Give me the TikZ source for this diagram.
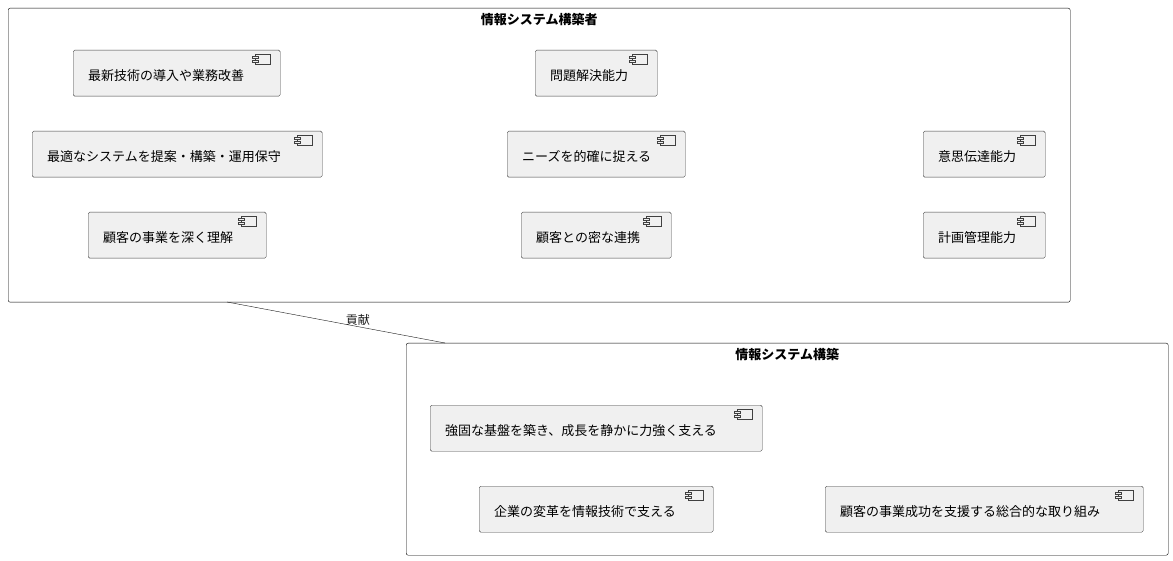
\documentclass[tikz,border=0pt]{standalone}
\usepackage{fontspec}
\setmainfont{Noto Sans CJK JP}
\usetikzlibrary{positioning}

\tikzset{
  comp/.style={draw=black!75, fill=black!6, rounded corners=1.5pt, anchor=north west,
    minimum height=46pt, inner xsep=15pt, inner ysep=0pt, text width=#1, align=left,
    font=\fontsize{13}{15}\selectfont, text height=15pt, text depth=1pt},
  pkg/.style={draw=black, rounded corners=2pt, anchor=north west, inner sep=0pt},
  title/.style={font=\fontsize{13}{15}\selectfont\bfseries},
}

\begin{document}
\begin{tikzpicture}[x=1pt, y=-1pt]
        \useasboundingbox (0,0) rectangle (1173,561);
        % Packages
        \node (builder) [pkg, minimum width=1062pt, minimum height=294pt] at (8,8) {};
        \node [title, below=2pt of builder.north] {情報システム構築者};
        \node (build) [pkg, minimum width=762pt, minimum height=212pt] at (406,343) {};
        \node [title, below=2pt of build.north] {情報システム構築};

        % Components
        \node (tech) [comp=177pt] at (73,50) {最新技術の導入や業務改善};
        \node (solve) [comp=92pt] at (535,50) {問題解決能力};
        \node (propose) [comp=260pt] at (32,131) {最適なシステムを提案・構築・運用保守};
        \node (needs) [comp=148pt] at (507,131) {ニーズを的確に捉える};
        \node (comm) [comp=92pt] at (923,131) {意思伝達能力};
        \node (understand) [comp=148pt] at (88,212) {顧客の事業を深く理解};
        \node (cooperate) [comp=120pt] at (521,212) {顧客との密な連携};
        \node (plan) [comp=92pt] at (923,212) {計画管理能力};
        \node (base) [comp=302pt] at (430,405) {強固な基盤を築き、成長を静かに力強く支える};
        \node (reform) [comp=204pt] at (479,486) {企業の変革を情報技術で支える};
        \node (success) [comp=288pt] at (825,486) {顧客の事業成功を支援する総合的な取り組み};

        % Component icons
        \foreach \n in {tech, solve, propose, needs, comm, understand, cooperate, plan, base, reform, success} {
          \draw[black!75, fill=black!6] ([xshift=-25pt, yshift=-4pt]\n.north east) rectangle ([xshift=-10pt, yshift=-14pt]\n.north east);
          \draw[black!75, fill=black!6] ([xshift=-28pt, yshift=-6pt]\n.north east) rectangle ([xshift=-22pt, yshift=-8pt]\n.north east);
          \draw[black!75, fill=black!6] ([xshift=-28pt, yshift=-10pt]\n.north east) rectangle ([xshift=-22pt, yshift=-12pt]\n.north east);
        }

        % Connector
        \coordinate (from) at (227,302);
        \coordinate (to) at (445,343);
        \draw[black!90] (from) -- node[above, pos=0.6, font=\fontsize{12}{14}\selectfont, inner sep=1pt] {貢献} (to);
\end{tikzpicture}
\end{document}
